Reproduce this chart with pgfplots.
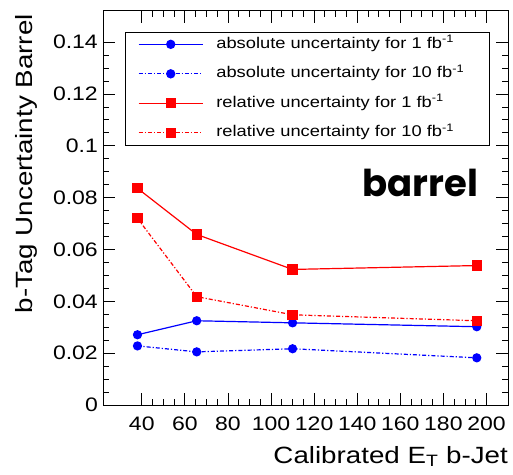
\documentclass[border=0pt]{standalone}
\usepackage{fontspec}
\setmainfont{Liberation Sans}[FakeStretch=1.18]
\newfontfamily\barrelfont{Poppins}
\usepackage{pgfplots}
\pgfplotsset{compat=1.18}
\definecolor{rblue}{RGB}{0,0,255}
\definecolor{rred}{RGB}{255,0,0}
\begin{document}
\begin{tikzpicture}
\path[use as bounding box] (0,0) rectangle (513pt,474pt);
\begin{axis}[
  at={(103pt,69pt)}, anchor=south west,
  scale only axis, width=405pt, height=394pt,
  xmin=22, xmax=210, ymin=0, ymax=0.152,
  xtick={40,60,80,100,120,140,160,180,200},
  ytick={0,0.02,0.04,0.06,0.08,0.1,0.12,0.14},
  minor x tick num=3, minor y tick num=3,
  major tick length=12pt, minor tick length=6pt,
  tick align=inside, tick pos=both,
  axis line style={line width=1pt, black},
  every tick/.style={line width=0.8pt, black},
  scaled y ticks=false,
  /pgf/number format/assume math mode=true,
  yticklabel style={/pgf/number format/fixed, /pgf/number format/precision=2},
  tick label style={font=\fontsize{19.5}{22}\selectfont, inner sep=0pt},
  xticklabel shift=12pt, yticklabel shift=5pt,
  xlabel={Calibrated E\textsubscript{T} b-Jet},
  ylabel={b-Tag Uncertainty Barrel},
  label style={font=\fontsize{23.5}{26}\selectfont, inner sep=0pt},
  xlabel style={at={(axis description cs:1,-0.104)}, anchor=north east},
  ylabel style={at={(axis description cs:-0.188,0.992)}, anchor=east},
  legend cell align=left,
  legend style={at={(axis description cs:0.054,0.947)}, anchor=north west,
    draw=black, inner xsep=13pt, inner ysep=5pt,
    font=\fontsize{15.5}{18}\selectfont,
    nodes={inner sep=0pt, text height=11pt, text depth=3.5pt},
    row sep=15pt,
    /tikz/every odd column/.append style={column sep=13pt}},
  legend image post style={line width=1.3pt},
  legend image code/.code={\draw[line width=1.3pt, mark repeat=2,mark phase=2] plot coordinates {(0pt,0pt) (32pt,0pt) (64pt,0pt)};},
]
\addplot[rblue, line width=1.2pt, mark=*, mark size=4pt, mark options={solid}] coordinates {
  (38,0.0271) (65.5,0.0325) (110,0.0317) (195.5,0.0302)};
\addlegendentry{\makebox[260pt][l]{absolute uncertainty for 1 fb\textsuperscript{-1}}}
\addplot[rblue, line width=1.2pt, dash pattern=on 4pt off 2pt on 1.2pt off 2pt, mark=*, mark size=4pt, mark options={solid}] coordinates {
  (38,0.0228) (65.5,0.0205) (110,0.0217) (195.5,0.0182)};
\addlegendentry{\makebox[260pt][l]{absolute uncertainty for 10 fb\textsuperscript{-1}}}
\addplot[rred, line width=1.2pt, mark=square*, mark size=4.5pt, mark options={solid}] coordinates {
  (38,0.0836) (65.5,0.0658) (110,0.0523) (195.5,0.0538)};
\addlegendentry{\makebox[260pt][l]{relative uncertainty for 1 fb\textsuperscript{-1}}}
\addplot[rred, line width=1.2pt, dash pattern=on 4pt off 2pt on 1.2pt off 2pt, mark=square*, mark size=4.5pt, mark options={solid}] coordinates {
  (38,0.0720) (65.5,0.0418) (110,0.0348) (195.5,0.0325)};
\addlegendentry{\makebox[260pt][l]{relative uncertainty for 10 fb\textsuperscript{-1}}}
\node[anchor=base, font=\barrelfont\bfseries\fontsize{37}{40}\selectfont, inner sep=0pt] at (axis cs:169.2,0.0805) {barrel};
\end{axis}
\end{tikzpicture}
\end{document}
